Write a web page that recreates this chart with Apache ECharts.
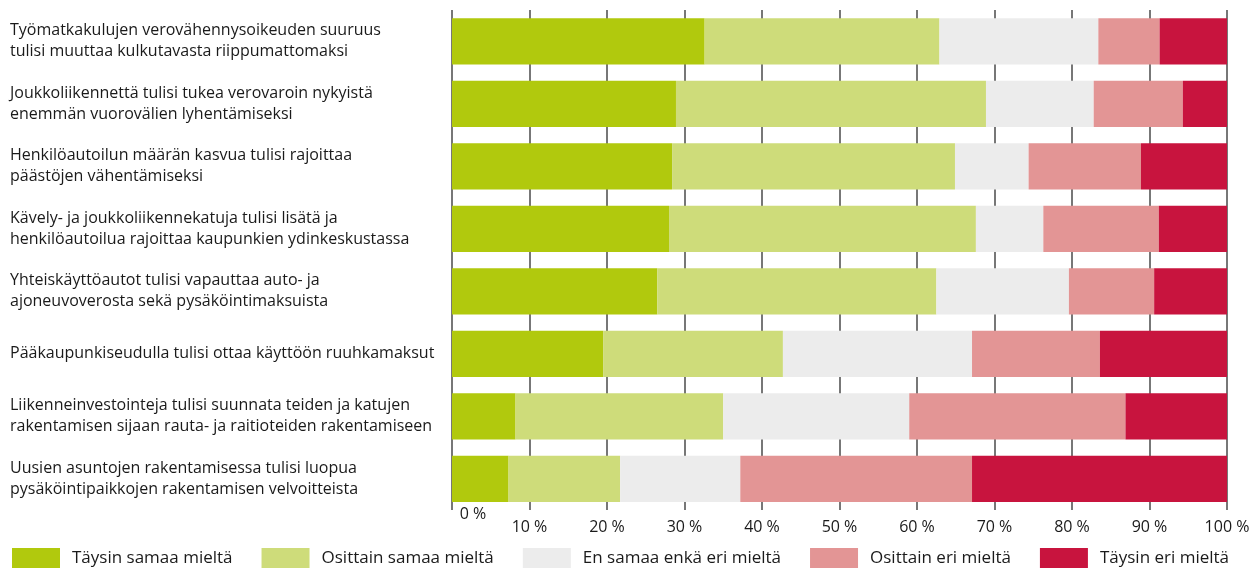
<!DOCTYPE html>
<html>
<head>
<meta charset="utf-8">
<script src="https://cdn.jsdelivr.net/npm/echarts@6/dist/echarts.min.js"></script>
<style>
  html, body { margin: 0; padding: 0; background: #fff; }
  #chart { width: 1260px; height: 570px; }
</style>
</head>
<body>
<div id="chart"></div>
<script>
// Survey statements (top to bottom)
const categories = [
  'Työmatkakulujen verovähennysoikeuden suuruus\ntulisi muuttaa kulkutavasta riippumattomaksi',
  'Joukkoliikennettä tulisi tukea verovaroin nykyistä\nenemmän vuorovälien lyhentämiseksi',
  'Henkilöautoilun määrän kasvua tulisi rajoittaa\npäästöjen vähentämiseksi',
  'Kävely- ja joukkoliikennekatuja tulisi lisätä ja\nhenkilöautoilua rajoittaa kaupunkien ydinkeskustassa',
  'Yhteiskäyttöautot tulisi vapauttaa auto- ja\najoneuvoverosta sekä pysäköintimaksuista',
  'Pääkaupunkiseudulla tulisi ottaa käyttöön ruuhkamaksut',
  'Liikenneinvestointeja tulisi suunnata teiden ja katujen\nrakentamisen sijaan rauta- ja raitioteiden rakentamiseen',
  'Uusien asuntojen rakentamisessa tulisi luopua\npysäköintipaikkojen rakentamisen velvoitteista'
];

// Answer shares, % of respondents
const fullyAgree     = [32.6, 28.9, 28.4, 28.0, 26.5, 19.5,  8.2,  7.3];
const partlyAgree    = [30.3, 40.0, 36.5, 39.6, 36.0, 23.2, 26.8, 14.4];
const neither        = [20.5, 13.9,  9.5,  8.7, 17.1, 24.4, 24.0, 15.5];
const partlyDisagree = [ 7.9, 11.5, 14.5, 14.9, 11.0, 16.5, 27.9, 29.9];
const fullyDisagree  = [ 8.7,  5.7, 11.1,  8.8,  9.4, 16.4, 13.1, 32.9];

const seriesNames = [
  'Täysin samaa mieltä',
  'Osittain samaa mieltä',
  'En samaa enkä eri mieltä',
  'Osittain eri mieltä',
  'Täysin eri mieltä'
];
const seriesData = [fullyAgree, partlyAgree, neither, partlyDisagree, fullyDisagree];
const colors = ['#b1c90d', '#cedc7a', '#ececec', '#e39595', '#c8143e'];

const FONT = '"Open Sans", "Noto Sans", sans-serif';
const TEXT = '#1a1a1a';

const chart = echarts.init(document.getElementById('chart'), null, { renderer: 'canvas' });

chart.setOption({
  animation: false,
  color: colors,
  textStyle: { fontFamily: FONT },
  grid: { left: 452, right: 33, top: 10, height: 500, containLabel: false },
  legend: {
    left: 12,
    top: 548,
    padding: 0,
    itemWidth: 48,
    itemHeight: 20,
    itemGap: 29,
    icon: 'rect',
    selectedMode: false,
    textStyle: { fontSize: 17, color: TEXT, fontFamily: FONT, padding: [0, 0, 0, 7] },
    data: seriesNames
  },
  xAxis: {
    type: 'value',
    min: 0,
    max: 100,
    interval: 10,
    axisLine: { show: false },
    axisTick: { show: false },
    splitLine: { show: true, lineStyle: { color: '#777', width: 2 } },
    axisLabel: {
      margin: -4,
      color: TEXT,
      fontSize: 16,
      fontFamily: FONT,
      formatter: function (v) {
        return v === 0 ? '{z|0 %}' : '{n|' + v + ' %}';
      },
      rich: {
        z: { fontSize: 16, color: TEXT, fontFamily: FONT, padding: [0, 0, 0, 42] },
        n: { fontSize: 16, color: TEXT, fontFamily: FONT, padding: [13, 0, 0, 0] }
      }
    }
  },
  yAxis: {
    type: 'category',
    inverse: true,
    data: categories,
    axisLine: { show: false },
    axisTick: { show: false },
    splitLine: { show: false },
    axisLabel: {
      align: 'left',
      margin: 442,
      fontSize: 16,
      lineHeight: 21,
      color: TEXT,
      fontFamily: FONT
    }
  },
  series: seriesNames.map(function (name, i) {
    return {
      name: name,
      type: 'bar',
      stack: 'total',
      barCategoryGap: '26%',
      data: seriesData[i],
      itemStyle: { color: colors[i] }
    };
  })
});
</script>
</body>
</html>
